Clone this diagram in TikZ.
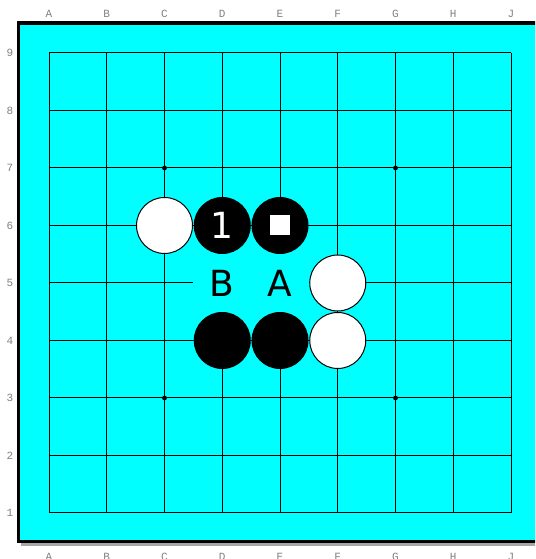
\documentclass[tikz,border=0pt]{standalone}
\usepackage{fontspec}
\newfontfamily\stonefont{DejaVu Sans}
\newfontfamily\coordfont{Liberation Mono}
\definecolor{boardCyan}{HTML}{00FFFF}
\definecolor{coordGray}{HTML}{808080}

\begin{document}
\begin{tikzpicture}[
  x=28.875pt, y=28.75pt,
  gridline/.style={draw=black, line width=0.5pt},
  frame/.style={draw=black, line width=1.6pt},
  shadow/.style={draw=black!35, line width=1.6pt},
  coordlabel/.style={font=\coordfont\fontsize{5.5}{6}\selectfont, text=coordGray, inner sep=0pt},
  blackstone/.style={circle, draw=black, fill=black, minimum size=28pt, inner sep=0pt, line width=0.5pt},
  whitestone/.style={circle, draw=black, fill=white, minimum size=28pt, inner sep=0pt, line width=0.5pt},
  marklabel/.style={fill=boardCyan, minimum width=28.875pt, minimum height=28.75pt, inner sep=0pt, font=\stonefont\fontsize{18}{20}\selectfont},
  hoshi/.style={fill=black}
]
\useasboundingbox (-0.8485,-0.8) rectangle (8.4156,8.9217);
\clip (-0.8485,-0.8) rectangle (8.4156,8.9217);

% board
\fill[boardCyan] (-0.528,-0.496) rectangle (8.6,8.522);
\draw[shadow] (-0.49,-0.55) -- (8.6,-0.55);
\draw[frame] (8.6,-0.496) -- (-0.528,-0.496) -- (-0.528,8.522) -- (8.6,8.522);

% grid
\foreach \i in {0,...,8} {
  \draw[gridline] (\i,0) -- (\i,8);
  \draw[gridline] (0,\i) -- (8,\i);
}
\foreach \p in {(2,6),(6,6),(2,2),(6,2)}
  \fill[hoshi] \p circle (1.2pt);

% coordinates
\foreach \c [count=\i from 0] in {A,B,C,D,E,F,G,H,J} {
  \node[coordlabel] (top\c) at (\i,8.678) {\c};
  \node[coordlabel] (bot\c) at (\i,-0.77) {\c};
}
\foreach \r in {1,...,9}
  \node[coordlabel] (row\r) at (-0.675,\r-1) {\r};

% letters
\node[marklabel] (labB) at (3,4) {B};
\node[marklabel] (labA) at (4,4) {A};

% stones
\node[whitestone] (c6) at (2,5) {};
\node[blackstone, text=white, font=\stonefont\fontsize{18}{20}\selectfont] (d6) at (3,5) {1};
\node[blackstone] (e6) at (4,5) {};
\node[fill=white, minimum size=10pt, inner sep=0pt] (e6mark) at (e6) {};
\node[whitestone] (f5) at (5,4) {};
\node[blackstone] (d4) at (3,3) {};
\node[blackstone] (e4) at (4,3) {};
\node[whitestone] (f4) at (5,3) {};
\end{tikzpicture}
\end{document}
